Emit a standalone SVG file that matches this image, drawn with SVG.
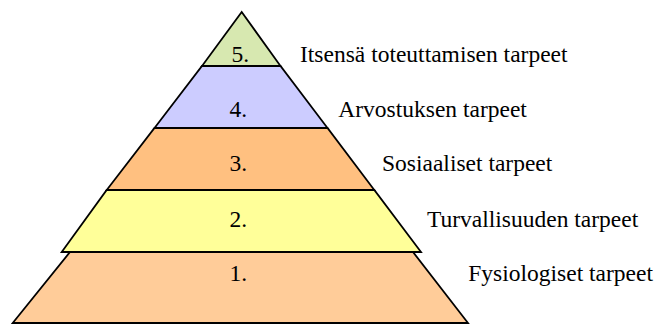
<svg xmlns="http://www.w3.org/2000/svg" width="662" height="325" viewBox="0 0 662 325">
<style>
.lvl{stroke:#000;stroke-width:1.8;stroke-linejoin:miter}
text{font-family:"Liberation Serif","Times New Roman",serif;font-size:23.5px;fill:#000}
</style>
<rect width="662" height="325" fill="#fff"/>
<g id="level1">
<polygon class="lvl" fill="#FFCC99" points="70,252 413,252 468,323 12.7,323"/>
<text x="229.5" y="281">1.</text>
<text x="468.3" y="281">Fysiologiset tarpeet</text>
</g>
<g id="level2">
<polygon class="lvl" fill="#FFFF99" points="106.7,190 374.3,190 421,252 61.7,252"/>
<text x="229.5" y="227">2.</text>
<text x="427" y="227">Turvallisuuden tarpeet</text>
</g>
<g id="level3">
<polygon class="lvl" fill="#FFC080" points="154.5,128 327.5,128 374.3,190 106.7,190"/>
<text x="229.5" y="171">3.</text>
<text x="382" y="171">Sosiaaliset tarpeet</text>
</g>
<g id="level4">
<polygon class="lvl" fill="#CCCCFF" points="202,66 280.5,66 327.5,128 154.5,128"/>
<text x="229.5" y="116.5">4.</text>
<text x="338.3" y="116.5">Arvostuksen tarpeet</text>
</g>
<g id="level5">
<polygon class="lvl" fill="#D7E8B0" points="241.7,12 280.5,66 202,66"/>
<text x="231.5" y="62">5.</text>
<text x="300" y="62">Itsensä toteuttamisen tarpeet</text>
</g>
</svg>
